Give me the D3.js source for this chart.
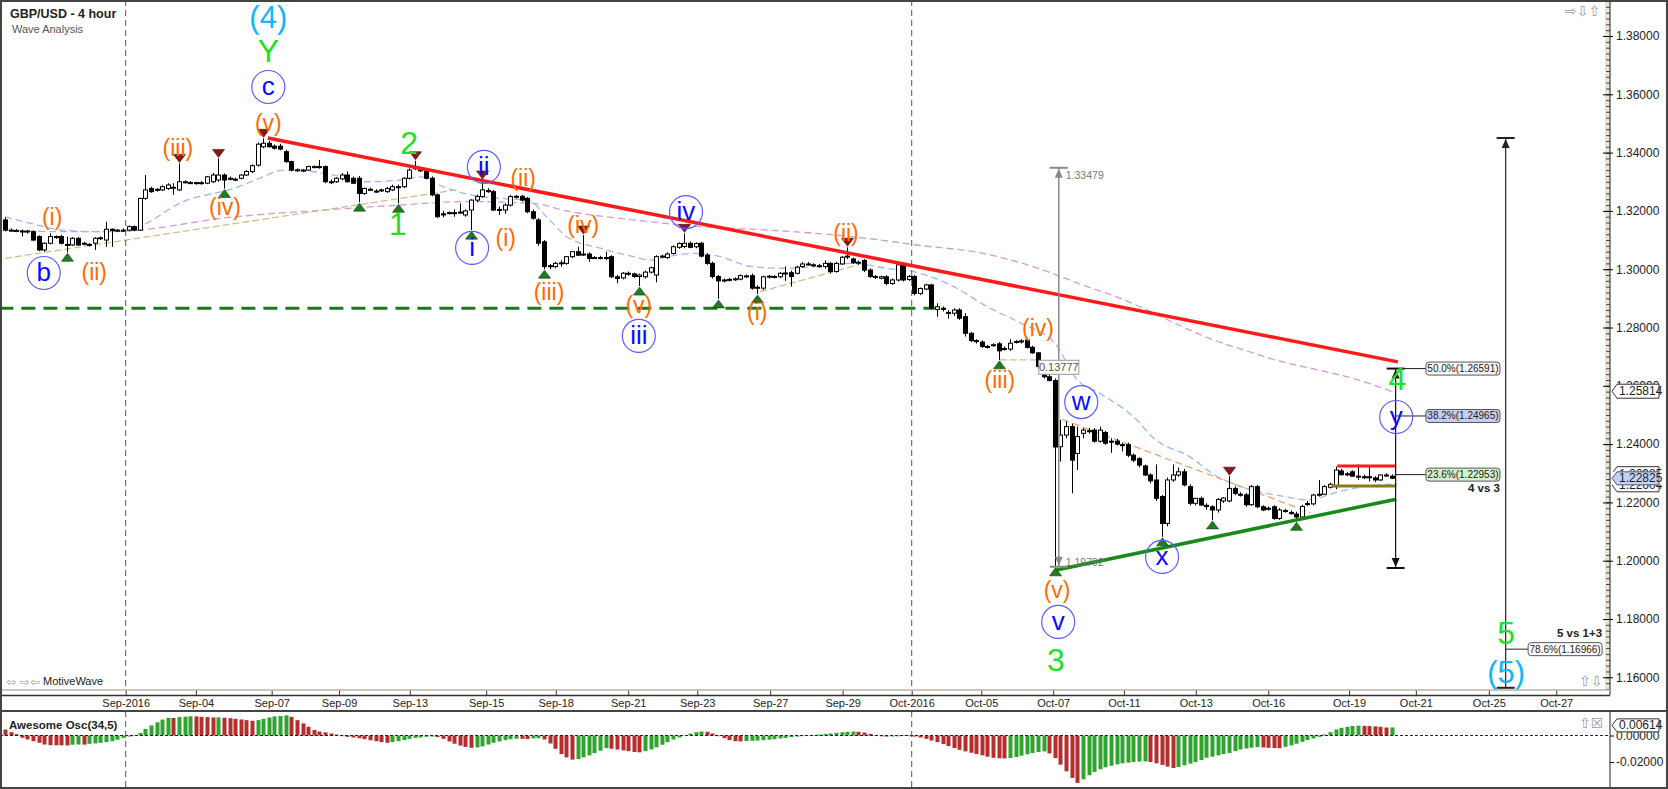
<!DOCTYPE html>
<html lang="en">
<head>
<meta charset="UTF-8">
<title>GBP/USD - 4 hour</title>
<script src="https://d3js.org/d3.v7.min.js"></script>
<style>
  body { margin: 0; background: #fff; }
  svg { display: block; font-family: "Liberation Sans", Arial, sans-serif; }
  .icon { font-family: "DejaVu Sans", sans-serif; fill: #9a9a9a; }
</style>
</head>
<body>
<svg id="chart" width="1668" height="789"></svg>
<script>
// 4 hour bars, [open, high, low, close]; index 0 = first bar on screen
const candles = [
  [1.3169,1.3178,1.3130,1.3134],[1.3134,1.3140,1.3128,1.3133],[1.3133,1.3138,1.3127,1.3131],[1.3131,1.3136,1.3112,1.3128],[1.3128,1.3134,1.3122,1.3131],[1.3129,1.3133,1.3096,1.3100],
  [1.3112,1.3116,1.3062,1.3066],[1.3066,1.3092,1.3060,1.3089],[1.3089,1.3123,1.3085,1.3112],[1.3112,1.3116,1.3104,1.3109],[1.3112,1.3118,1.3085,1.3089],[1.3085,1.3112,1.3058,1.3083],
  [1.3083,1.3110,1.3080,1.3106],[1.3106,1.3110,1.3080,1.3083],[1.3089,1.3094,1.3082,1.3087],[1.3085,1.3090,1.3078,1.3083],[1.3089,1.3110,1.3066,1.3106],[1.3106,1.3112,1.3100,1.3108],
  [1.3100,1.3163,1.3077,1.3137],[1.3137,1.3140,1.3077,1.3132],[1.3134,1.3138,1.3128,1.3134],[1.3134,1.3140,1.3128,1.3133],[1.3134,1.3150,1.3130,1.3146],[1.3146,1.3150,1.3130,1.3134],
  [1.3134,1.3245,1.3132,1.3243],[1.3243,1.3323,1.3238,1.3272],[1.3277,1.3283,1.3262,1.3266],[1.3272,1.3278,1.3266,1.3274],[1.3272,1.3288,1.3268,1.3283],[1.3277,1.3295,1.3272,1.3289],
  [1.3281,1.3295,1.3255,1.3281],[1.3272,1.3363,1.3268,1.3300],[1.3300,1.3305,1.3294,1.3300],[1.3297,1.3302,1.3292,1.3296],[1.3297,1.3300,1.3290,1.3296],[1.3297,1.3302,1.3290,1.3297],
  [1.3295,1.3320,1.3292,1.3317],[1.3300,1.3330,1.3295,1.3323],[1.3306,1.3380,1.3300,1.3323],[1.3323,1.3328,1.3277,1.3306],[1.3312,1.3318,1.3305,1.3310],[1.3309,1.3314,1.3302,1.3308],
  [1.3312,1.3326,1.3308,1.3323],[1.3323,1.3340,1.3320,1.3335],[1.3335,1.3360,1.3330,1.3355],[1.3357,1.3435,1.3352,1.3429],[1.3420,1.3449,1.3415,1.3432],[1.3432,1.3440,1.3418,1.3420],
  [1.3422,1.3428,1.3410,1.3415],[1.3422,1.3430,1.3408,1.3412],[1.3403,1.3410,1.3365,1.3369],[1.3369,1.3372,1.3335,1.3340],[1.3340,1.3346,1.3334,1.3341],[1.3340,1.3344,1.3333,1.3339],
  [1.3340,1.3355,1.3337,1.3352],[1.3352,1.3356,1.3346,1.3351],[1.3352,1.3375,1.3345,1.3350],[1.3352,1.3356,1.3295,1.3300],[1.3300,1.3308,1.3292,1.3299],[1.3300,1.3315,1.3296,1.3312],
  [1.3310,1.3330,1.3305,1.3323],[1.3323,1.3335,1.3298,1.3300],[1.3312,1.3318,1.3292,1.3295],[1.3312,1.3320,1.3230,1.3260],[1.3260,1.3280,1.3255,1.3277],[1.3274,1.3280,1.3268,1.3272],
  [1.3268,1.3274,1.3262,1.3267],[1.3272,1.3276,1.3265,1.3270],[1.3266,1.3282,1.3262,1.3277],[1.3272,1.3290,1.3268,1.3283],[1.3283,1.3290,1.3226,1.3280],[1.3283,1.3315,1.3278,1.3312],
  [1.3312,1.3346,1.3308,1.3340],[1.3346,1.3372,1.3340,1.3348],[1.3340,1.3346,1.3334,1.3341],[1.3340,1.3345,1.3308,1.3312],[1.3312,1.3318,1.3250,1.3255],[1.3255,1.3260,1.3175,1.3180],
  [1.3190,1.3200,1.3178,1.3186],[1.3194,1.3198,1.3188,1.3192],[1.3192,1.3205,1.3180,1.3194],[1.3194,1.3226,1.3190,1.3196],[1.3186,1.3205,1.3180,1.3200],[1.3203,1.3240,1.3134,1.3237],
  [1.3237,1.3256,1.3230,1.3249],[1.3249,1.3306,1.3245,1.3272],[1.3270,1.3278,1.3262,1.3266],[1.3266,1.3272,1.3200,1.3203],[1.3205,1.3215,1.3186,1.3203],[1.3203,1.3226,1.3190,1.3220],
  [1.3220,1.3255,1.3215,1.3249],[1.3249,1.3255,1.3243,1.3250],[1.3250,1.3255,1.3232,1.3237],[1.3243,1.3248,1.3192,1.3197],[1.3197,1.3205,1.3170,1.3175],[1.3169,1.3175,1.3080,1.3089],
  [1.3094,1.3100,1.3000,1.3009],[1.3009,1.3018,1.3000,1.3012],[1.3009,1.3025,1.3003,1.3020],[1.3020,1.3031,1.3009,1.3022],[1.3020,1.3045,1.3015,1.3043],[1.3043,1.3060,1.3038,1.3060],
  [1.3060,1.3077,1.3045,1.3048],[1.3052,1.3117,1.3045,1.3050],[1.3052,1.3058,1.3025,1.3037],[1.3040,1.3045,1.3035,1.3040],[1.3040,1.3046,1.3034,1.3039],[1.3040,1.3060,1.3032,1.3038],
  [1.3043,1.3048,1.2970,1.2974],[1.2974,1.2980,1.2952,1.2968],[1.2970,1.2990,1.2965,1.2986],[1.2986,1.2992,1.2978,1.2984],[1.2984,1.2988,1.2970,1.2975],[1.2975,1.2985,1.2942,1.2980],
  [1.2974,1.2995,1.2968,1.2990],[1.2990,1.3009,1.2985,1.3005],[1.2980,1.3048,1.2955,1.3043],[1.3043,1.3050,1.3038,1.3045],[1.3040,1.3058,1.3035,1.3052],[1.3054,1.3082,1.3050,1.3077],
  [1.3075,1.3092,1.3070,1.3088],[1.3078,1.3123,1.3072,1.3089],[1.3089,1.3095,1.3072,1.3075],[1.3077,1.3092,1.3072,1.3088],[1.3089,1.3094,1.3040,1.3045],[1.3048,1.3055,1.3015,1.3020],
  [1.3020,1.3026,1.2968,1.2975],[1.2975,1.2980,1.2898,1.2960],[1.2962,1.2968,1.2955,1.2963],[1.2963,1.2970,1.2958,1.2965],[1.2966,1.2972,1.2960,1.2967],[1.2966,1.2982,1.2962,1.2978],
  [1.2976,1.2982,1.2970,1.2977],[1.2978,1.2985,1.2930,1.2935],[1.2935,1.2945,1.2915,1.2938],[1.2935,1.2978,1.2928,1.2974],[1.2974,1.2980,1.2968,1.2976],[1.2975,1.2980,1.2968,1.2973],
  [1.2974,1.2990,1.2970,1.2986],[1.2985,1.3009,1.2960,1.2987],[1.2988,1.2995,1.2940,1.2975],[1.2986,1.3012,1.2982,1.3007],[1.3009,1.3025,1.3005,1.3018],[1.3018,1.3025,1.3012,1.3017],
  [1.3015,1.3020,1.3008,1.3014],[1.3012,1.3018,1.3005,1.3010],[1.3009,1.3030,1.3002,1.3020],[1.3020,1.3025,1.2985,1.2992],[1.2992,1.3025,1.2988,1.3020],[1.3018,1.3045,1.3015,1.3041],
  [1.3043,1.3075,1.3035,1.3045],[1.3035,1.3040,1.3018,1.3022],[1.3022,1.3030,1.3015,1.3024],[1.3030,1.3035,1.2990,1.2997],[1.2997,1.3003,1.2970,1.2975],[1.2975,1.2980,1.2966,1.2974],
  [1.2969,1.2978,1.2965,1.2974],[1.2974,1.2980,1.2945,1.2951],[1.2951,1.2968,1.2946,1.2963],[1.2963,1.3018,1.2958,1.3015],[1.3015,1.3020,1.2958,1.2963],[1.2965,1.2980,1.2960,1.2975],
  [1.2975,1.2980,1.2910,1.2917],[1.2917,1.2937,1.2912,1.2934],[1.2932,1.2950,1.2928,1.2946],[1.2946,1.2950,1.2862,1.2866],[1.2862,1.2883,1.2837,1.2871],[1.2866,1.2872,1.2855,1.2862],
  [1.2852,1.2860,1.2830,1.2850],[1.2849,1.2866,1.2840,1.2860],[1.2860,1.2866,1.2826,1.2832],[1.2837,1.2849,1.2769,1.2780],[1.2780,1.2785,1.2750,1.2755],[1.2755,1.2760,1.2745,1.2752],
  [1.2750,1.2756,1.2730,1.2735],[1.2735,1.2740,1.2728,1.2734],[1.2740,1.2746,1.2734,1.2741],[1.2744,1.2750,1.2689,1.2720],[1.2727,1.2735,1.2720,1.2728],[1.2726,1.2760,1.2720,1.2746],
  [1.2750,1.2757,1.2745,1.2752],[1.2752,1.2760,1.2745,1.2754],[1.2757,1.2765,1.2728,1.2732],[1.2732,1.2737,1.2710,1.2713],[1.2713,1.2716,1.2660,1.2666],[1.2660,1.2665,1.2625,1.2631],
  [1.2631,1.2640,1.2615,1.2618],[1.2618,1.2625,1.1979,1.2390],[1.2391,1.2483,1.2340,1.2431],[1.2431,1.2478,1.2420,1.2460],[1.2460,1.2470,1.2231,1.2345],[1.2368,1.2460,1.2311,1.2426],
  [1.2437,1.2455,1.2420,1.2448],[1.2446,1.2455,1.2436,1.2444],[1.2448,1.2455,1.2405,1.2410],[1.2410,1.2460,1.2405,1.2448],[1.2440,1.2445,1.2398,1.2403],[1.2410,1.2420,1.2370,1.2408],
  [1.2410,1.2418,1.2395,1.2400],[1.2398,1.2405,1.2375,1.2396],[1.2398,1.2405,1.2355,1.2362],[1.2362,1.2368,1.2338,1.2345],[1.2350,1.2355,1.2320,1.2328],[1.2325,1.2330,1.2290,1.2294],
  [1.2294,1.2300,1.2265,1.2274],[1.2277,1.2330,1.2205,1.2214],[1.2220,1.2225,1.2082,1.2128],[1.2128,1.2285,1.2118,1.2277],[1.2277,1.2330,1.2270,1.2294],[1.2294,1.2320,1.2288,1.2305],
  [1.2305,1.2315,1.2255,1.2260],[1.2254,1.2262,1.2190,1.2197],[1.2197,1.2215,1.2190,1.2214],[1.2214,1.2220,1.2188,1.2191],[1.2190,1.2197,1.2175,1.2186],[1.2185,1.2190,1.2140,1.2174],
  [1.2174,1.2215,1.2165,1.2210],[1.2205,1.2218,1.2198,1.2215],[1.2205,1.2290,1.2200,1.2248],[1.2248,1.2255,1.2225,1.2231],[1.2228,1.2235,1.2220,1.2226],[1.2226,1.2232,1.2185,1.2192],
  [1.2192,1.2260,1.2188,1.2254],[1.2254,1.2260,1.2180,1.2185],[1.2185,1.2190,1.2170,1.2174],[1.2180,1.2186,1.2172,1.2178],[1.2185,1.2190,1.2140,1.2145],[1.2145,1.2180,1.2140,1.2174],
  [1.2172,1.2178,1.2165,1.2171],[1.2165,1.2172,1.2158,1.2163],[1.2160,1.2168,1.2135,1.2150],[1.2150,1.2192,1.2145,1.2186],[1.2196,1.2205,1.2188,1.2195],[1.2195,1.2230,1.2190,1.2225],
  [1.2226,1.2277,1.2220,1.2228],[1.2228,1.2260,1.2225,1.2254],[1.2252,1.2268,1.2248,1.2262],[1.2254,1.2323,1.2245,1.2311],[1.2308,1.2315,1.2292,1.2295],[1.2298,1.2305,1.2290,1.2297],
  [1.2305,1.2310,1.2288,1.2290],[1.2290,1.2330,1.2277,1.2288],[1.2288,1.2295,1.2280,1.2287],[1.2288,1.2323,1.2272,1.2287],[1.2284,1.2290,1.2270,1.2277],[1.2277,1.2296,1.2274,1.2294],
  [1.2292,1.2300,1.2288,1.2294],[1.2290,1.2296,1.2280,1.2283]
];

// Awesome Oscillator (34,5), one value per bar
const aoValues = [
  0.0045,0.0025,0.0010,-0.0017,-0.0030,-0.0043,-0.0055,-0.0068,-0.0073,-0.0074,-0.0074,-0.0075,
  -0.0070,-0.0068,-0.0069,-0.0063,-0.0060,-0.0055,-0.0050,-0.0043,-0.0032,-0.0018,-0.0008,0.0003,
  0.0020,0.0050,0.0076,0.0100,0.0120,0.0133,0.0132,0.0139,0.0142,0.0145,0.0144,0.0141,
  0.0139,0.0136,0.0137,0.0134,0.0131,0.0126,0.0121,0.0116,0.0111,0.0116,0.0126,0.0136,
  0.0144,0.0147,0.0152,0.0141,0.0116,0.0091,0.0066,0.0042,0.0030,0.0024,0.0015,0.0007,
  -0.0005,-0.0010,-0.0015,-0.0020,-0.0028,-0.0036,-0.0043,-0.0050,-0.0055,-0.0050,-0.0043,-0.0035,
  -0.0025,-0.0018,-0.0015,-0.0010,-0.0008,-0.0012,-0.0025,-0.0045,-0.0062,-0.0076,-0.0086,-0.0093,
  -0.0090,-0.0082,-0.0068,-0.0055,-0.0045,-0.0035,-0.0028,-0.0024,-0.0025,-0.0027,-0.0022,-0.0020,
  -0.0030,-0.0060,-0.0100,-0.0140,-0.0165,-0.0182,-0.0178,-0.0165,-0.0150,-0.0133,-0.0115,-0.0095,
  -0.0100,-0.0106,-0.0112,-0.0118,-0.0124,-0.0127,-0.0118,-0.0105,-0.0090,-0.0070,-0.0050,-0.0030,
  -0.0015,0.0002,0.0015,0.0025,0.0030,0.0028,0.0015,-0.0005,-0.0020,-0.0035,-0.0043,-0.0045,
  -0.0042,-0.0040,-0.0038,-0.0035,-0.0032,-0.0028,-0.0022,-0.0018,-0.0012,-0.0008,-0.0005,-0.0002,
  0.0003,0.0008,0.0012,0.0015,0.0020,0.0025,0.0028,0.0030,0.0028,0.0022,0.0012,-0.0003,
  -0.0006,-0.0008,-0.0007,-0.0006,-0.0004,-0.0005,-0.0008,-0.0015,-0.0025,-0.0038,-0.0050,-0.0065,
  -0.0080,-0.0095,-0.0108,-0.0120,-0.0130,-0.0140,-0.0150,-0.0160,-0.0168,-0.0172,-0.0173,-0.0170,
  -0.0162,-0.0152,-0.0142,-0.0133,-0.0125,-0.0120,-0.0135,-0.0170,-0.0220,-0.0270,-0.0320,-0.0358,
  -0.0330,-0.0300,-0.0275,-0.0255,-0.0240,-0.0228,-0.0218,-0.0210,-0.0205,-0.0200,-0.0197,-0.0196,
  -0.0200,-0.0210,-0.0222,-0.0235,-0.0245,-0.0238,-0.0225,-0.0212,-0.0200,-0.0185,-0.0168,-0.0160,
  -0.0150,-0.0140,-0.0132,-0.0118,-0.0105,-0.0098,-0.0092,-0.0088,-0.0090,-0.0093,-0.0095,-0.0096,
  -0.0085,-0.0075,-0.0062,-0.0048,-0.0035,-0.0022,-0.0010,0.0008,0.0025,0.0045,0.0058,0.0066,
  0.0072,0.0074,0.0073,0.0071,0.0069,0.0066,0.0060,0.0061
];

// time axis (bar index of each date tick)
const timeTickBars = [21.5,34,47.5,59.5,72.1,85.7,98.1,111,123.3,136.3,149.2,161.5,173.9,186.7,199.3,212.1,225,239.4,251.3,264.3,276.3];
const timeTickLabels = ["Sep-2016","Sep-04","Sep-07","Sep-09","Sep-13","Sep-15","Sep-18","Sep-21","Sep-23","Sep-27","Sep-29","Oct-2016","Oct-05","Oct-07","Oct-11","Oct-13","Oct-16","Oct-19","Oct-21","Oct-25","Oct-27"];
const monthBars = [21.5, 161.5];

const priceTicks = [1.16,1.18,1.20,1.22,1.24,1.26,1.28,1.30,1.32,1.34,1.36,1.38];
const aoTicks = [0, -0.02];

// moving averages, [bar, price]
const maFast = [[0,1.3180],[4.6,1.3157],[10.2,1.3134],[16,1.3129],[21.7,1.3134],[32.4,1.3237],[40.7,1.3277],[45.4,1.3312],[49.6,1.3340],[51.4,1.3340],[58.5,1.3323],[64.4,1.3300],[70.4,1.3306],[74,1.3317],[78,1.3283],[83,1.3255],[88,1.3243],[93,1.3237],[97,1.3169],[100,1.3112],[106,1.3072],[112,1.3043],[115,1.3031],[118,1.3043],[123,1.3054],[127,1.3045],[133,1.3009],[139,1.3003],[145,1.3010],[151,1.3020],[157,1.3003],[163,1.2986],[169,1.2940],[175,1.2871],[181,1.2814],[187,1.2746],[191,1.2620],[195,1.2574],[201,1.2494],[205,1.2414],[207,1.2391],[210,1.2368],[216,1.2288],[222,1.2243],[228,1.2220],[232,1.2208],[237.6,1.2237],[243.6,1.2258],[248,1.2263]];
const maSlow = [[0,1.3134],[8,1.3129],[19,1.3129],[41,1.3180],[59,1.3206],[70.4,1.3220],[82,1.3232],[94,1.3226],[100,1.3200],[112,1.3169],[124,1.3146],[136,1.3134],[148,1.3117],[156,1.3100],[162.4,1.3083],[174.3,1.3054],[186,1.2990],[192,1.2945],[198,1.2905],[204,1.2855],[210,1.2800],[216,1.2752],[222,1.2715],[226,1.2690],[234,1.2654],[240,1.2626],[247,1.2581]];
const tanLine1 = [[0,1.3037],[81,1.3274]];
const tanLine2 = [[134.5,1.2923],[152,1.3015]];
const tanLine3 = [[177.2,1.2689],[183.8,1.2689]];
const orangeLine = [[188.3,1.2485],[232.5,1.2165]];

// drawn lines
const redTrend = [[46.8,1.3450],[248.1,1.2682]];
const greenSupport = [[187.3,1.1968],[247.8,1.2211]];
const redCap = [[237.3,1.2325],[247.8,1.2325]];
const oliveBase = [[236.3,1.2256],[247.8,1.2256]];
const greenLevel = [[-1,1.2866],[167,1.2866]];

// swing markers [bar, price]
const lowMarks = [[11,1.3058],[39,1.3277],[63,1.3230],[70,1.3226],[83,1.3134],[96,1.3000],[113,1.2942],[127,1.2898],[134,1.2915],[177,1.2689],[187,1.1979],[206,1.2082],[215,1.2140],[230,1.2135]];
const highMarks = [[31,1.3363],[38,1.3380],[46,1.3449],[73,1.3372],[85,1.3306],[103,1.3117],[121,1.3123],[150,1.3075],[218,1.2290]];

// wave labels [text, bar, price, group]
const waveLabels = [
  ["(4)",46.9,1.3865,"cyan"],["Y",46.9,1.3749,"green"],["c",46.9,1.3625,"circle"],["(v)",46.9,1.3502,"orange"],
  ["(iii)",30.8,1.3416,"orange"],["(iv)",39.2,1.3213,"orange"],["(i)",8.4,1.3179,"orange"],["b",6.9,1.2987,"circle"],["(ii)",15.9,1.2990,"orange"],
  ["2",72,1.3433,"green"],["1",70,1.3155,"green"],["ii",85.3,1.3351,"circle"],["(ii)",92.3,1.3313,"orange"],["i",83.2,1.3073,"circle"],
  ["(i)",89.2,1.3107,"orange"],["(iii)",96.9,1.2922,"orange"],["(iv)",103,1.3152,"orange"],["iv",121.3,1.3196,"circle"],["(v)",112.9,1.2877,"orange"],
  ["iii",112.9,1.2771,"circle"],["(i)",134,1.2853,"orange"],["(ii)",149.8,1.3124,"orange"],["(iv)",184,1.2798,"orange"],["(iii)",177.2,1.2620,"orange"],
  ["w",191.7,1.2544,"circle"],["(v)",187.4,1.1900,"orange"],["v",187.6,1.1790,"circle"],["3",187.2,1.1659,"green"],["x",206.1,1.2013,"circle"],
  ["4",248,1.2623,"green"],["y",247.8,1.2493,"circle"],["5",267.4,1.1752,"green"],["(5)",267.4,1.1615,"cyan"]
];

// measuring tools [bar, top price, bottom price]
const fibTool = [247.7, 1.26591, 1.1975];
const fibLevels = [["50.0%",1.26591],["38.2%",1.24965],["23.6%",1.22953]];
const extTool = [267.3, 1.3450, 1.1564];
const extLevel = ["78.6%", 1.16966];
const grayTool = [187.7, 1.33479, 1.19792];
const grayRange = "0.13777";

// value tags on the price axis
const tagBack = [[1.22985,"1.22985"],[1.22604,"1.22604"]];
const tagMa = [1.25814,"1.25814"];
const tagLast = [1.22825,"1.22825"];
const aoLast = 0.00614;

// ---------------------------------------------------------------------------
const W = 1668, H = 789;
const axisX = 1610, plotBottom = 690, oscTop = 711, oscBottom = 788;

const svg = d3.select("#chart");
svg.append("rect").attr("width", W).attr("height", H).attr("fill", "#fff");

const x = d3.scaleLinear().domain([0, 247]).range([5, 1391.7]);
const y = d3.scaleLinear().domain([1.16, 1.38]).range([677.3, 36]);
const yAo = d3.scaleLinear().domain([-0.02, 0]).range([762, 735.5]);

const defs = svg.append("defs");
defs.append("clipPath").attr("id", "clipMain").append("rect")
  .attr("x", 0).attr("y", 0).attr("width", axisX).attr("height", plotBottom);
defs.append("clipPath").attr("id", "clipOsc").append("rect")
  .attr("x", 0).attr("y", oscTop).attr("width", axisX).attr("height", oscBottom - oscTop);

// clip made of horizontal bands (used where a value tag covers axis text)
function bandClip(id, bands, x0) {
  const cp = defs.append("clipPath").attr("id", id);
  bands.forEach(([a, b]) => cp.append("rect").attr("x", x0).attr("y", a).attr("width", 200).attr("height", b - a));
}

const main = svg.append("g").attr("clip-path", "url(#clipMain)");
const osc = svg.append("g").attr("clip-path", "url(#clipOsc)");

// month separators
monthBars.forEach(b => {
  [[0, plotBottom], [oscTop, oscBottom]].forEach(([a, z]) => {
    svg.append("line").attr("x1", x(b)).attr("x2", x(b)).attr("y1", a).attr("y2", z)
      .attr("stroke", "#555").attr("stroke-dasharray", "6,4");
  });
});

const curve = d3.line().x(d => x(d[0])).y(d => y(d[1])).curve(d3.curveMonotoneX);
const straight = d3.line().x(d => x(d[0])).y(d => y(d[1]));

main.append("path").attr("d", curve(maSlow)).attr("fill", "none")
  .attr("stroke", "#d49ad6").attr("stroke-width", 1.3).attr("stroke-dasharray", "7,4");
main.append("path").attr("d", curve(maFast)).attr("fill", "none")
  .attr("stroke", "#9db7f4").attr("stroke-width", 1.3).attr("stroke-dasharray", "7,4");
[tanLine1, tanLine2, tanLine3].forEach(l => {
  main.append("path").attr("d", straight(l)).attr("fill", "none")
    .attr("stroke", "#c9c08c").attr("stroke-width", 1.3).attr("stroke-dasharray", "7,3");
});
main.append("path").attr("d", straight(orangeLine)).attr("fill", "none")
  .attr("stroke", "#f6a06a").attr("stroke-width", 1.3).attr("stroke-dasharray", "7,4");

main.append("path").attr("d", straight(greenLevel)).attr("fill", "none")
  .attr("stroke", "#1c7a1c").attr("stroke-width", 3).attr("stroke-dasharray", "14,8");

// candles
const cx = i => Math.round(x(i)) + 0.5;
main.append("g").selectAll("line").data(candles).join("line")
  .attr("x1", (d, i) => cx(i)).attr("x2", (d, i) => cx(i))
  .attr("y1", d => y(d[1])).attr("y2", d => y(d[2]))
  .attr("stroke", "#000").attr("stroke-width", 1);
main.append("g").selectAll("rect").data(candles).join("rect")
  .attr("x", (d, i) => cx(i) - 2).attr("width", 4)
  .attr("y", d => y(Math.max(d[0], d[3])))
  .attr("height", d => Math.max(1, Math.abs(y(d[0]) - y(d[3]))))
  .attr("fill", d => d[3] >= d[0] ? "#fff" : "#000")
  .attr("stroke", "#000").attr("stroke-width", 1);

// drawn lines
main.append("path").attr("d", straight(redTrend)).attr("stroke", "#ff1a1a").attr("stroke-width", 3.5);
main.append("path").attr("d", straight(greenSupport)).attr("stroke", "#198a19").attr("stroke-width", 3.5);
main.append("path").attr("d", straight(redCap)).attr("stroke", "#ff1a1a").attr("stroke-width", 3);
main.append("path").attr("d", straight(oliveBase)).attr("stroke", "#8a7c12").attr("stroke-width", 3);

// measuring tools
function tool(g, t, color, width, arrowTop, arrowBottom) {
  const xx = x(t[0]), yt = y(t[1]), yb = y(t[2]);
  g.append("line").attr("x1", xx).attr("x2", xx).attr("y1", yt).attr("y2", yb)
    .attr("stroke", color).attr("stroke-width", width);
  [yt, yb].forEach(v => g.append("line").attr("x1", xx - 9).attr("x2", xx + 9).attr("y1", v).attr("y2", v)
    .attr("stroke", color).attr("stroke-width", 2));
  if (arrowTop) g.append("path").attr("d", `M${xx},${yt + 1}L${xx - 4},${yt + 10}L${xx + 4},${yt + 10}Z`).attr("fill", color);
  if (arrowBottom) g.append("path").attr("d", `M${xx},${yb - 1}L${xx - 4},${yb - 10}L${xx + 4},${yb - 10}Z`).attr("fill", color);
}
tool(main, grayTool, "#8a8a8a", 1.5, true, true);
tool(main, fibTool, "#111", 1.2, true, true);
tool(main, extTool, "#222", 1.2, true, false);

const gx = x(grayTool[0]);
main.append("text").attr("x", gx + 7).attr("y", y(grayTool[1]) + 7).attr("dominant-baseline", "central")
  .attr("font-size", 10.5).attr("fill", "#777").text(grayTool[1].toFixed(5));
main.append("text").attr("x", gx + 7).attr("y", y(grayTool[2]) - 5).attr("dominant-baseline", "central")
  .attr("font-size", 10.5).attr("fill", "#777").text(grayTool[2].toFixed(5));
const gm = (y(grayTool[1]) + y(grayTool[2])) / 2;
main.append("rect").attr("x", gx - 20).attr("y", gm - 7).attr("width", 40).attr("height", 14)
  .attr("fill", "#fff").attr("stroke", "#999");
main.append("text").attr("x", gx).attr("y", gm).attr("text-anchor", "middle").attr("dominant-baseline", "central")
  .attr("font-size", 11).attr("fill", "#555").text(grayRange);

// fib labels
const fibFills = ["#f7f7f7", "#c7cef2", "#d1f0cb"];
const fx = x(fibTool[0]), fLab = x(253.1);
fibLevels.forEach(([pct, v], k) => {
  const yy = y(v);
  main.append("line").attr("x1", fx).attr("x2", fLab).attr("y1", yy).attr("y2", yy).attr("stroke", "#222");
  main.append("rect").attr("x", fLab).attr("y", yy - 6.5).attr("width", 74).attr("height", 13).attr("rx", 3)
    .attr("fill", fibFills[k]).attr("stroke", "#555");
  main.append("text").attr("x", fLab + 37).attr("y", yy).attr("text-anchor", "middle").attr("dominant-baseline", "central")
    .attr("font-size", 10).attr("fill", "#222").text(`${pct}(${v.toFixed(5)})`);
});
main.append("text").attr("x", fLab + 74).attr("y", y(fibLevels[2][1]) + 17).attr("text-anchor", "end")
  .attr("font-size", 11.5).attr("font-weight", "bold").attr("fill", "#222").text("4 vs 3");

const ex = x(extTool[0]), eLab = x(271.3), ey = y(extLevel[1]);
main.append("line").attr("x1", ex).attr("x2", eLab).attr("y1", ey).attr("y2", ey).attr("stroke", "#222");
main.append("rect").attr("x", eLab).attr("y", ey - 6.5).attr("width", 74).attr("height", 13).attr("rx", 3)
  .attr("fill", "#fff").attr("stroke", "#555");
main.append("text").attr("x", eLab + 37).attr("y", ey).attr("text-anchor", "middle").attr("dominant-baseline", "central")
  .attr("font-size", 10).attr("fill", "#222").text(`${extLevel[0]}(${extLevel[1].toFixed(5)})`);
main.append("text").attr("x", eLab + 74).attr("y", ey - 12).attr("text-anchor", "end")
  .attr("font-size", 11.5).attr("font-weight", "bold").attr("fill", "#222").text("5 vs 1+3");

// swing markers
main.append("g").selectAll("path").data(lowMarks).join("path")
  .attr("d", d => { const px = cx(d[0]), py = y(d[1]) + 1; return `M${px},${py}L${px - 6},${py + 8}L${px + 6},${py + 8}Z`; })
  .attr("fill", "#1f7c1f").attr("stroke", "#0d3f0d").attr("stroke-width", 0.6);
main.append("g").selectAll("path").data(highMarks).join("path")
  .attr("d", d => { const px = cx(d[0]), py = y(d[1]) - 1; return `M${px},${py}L${px - 6},${py - 8}L${px + 6},${py - 8}Z`; })
  .attr("fill", "#8c1616").attr("stroke", "#3f0808").attr("stroke-width", 0.6);

// wave labels
const labelStyle = {
  orange: { fill: "#ff6a00", size: 23 },
  green: { fill: "#22e022", size: 32 },
  cyan: { fill: "#14b6f7", size: 31 },
  circle: { fill: "#0b0bff", size: 26 }
};
waveLabels.forEach(([t, b, p, grp]) => {
  const st = labelStyle[grp];
  if (grp === "circle") {
    main.append("circle").attr("cx", x(b)).attr("cy", y(p)).attr("r", 16.5)
      .attr("fill", "none").attr("stroke", "#5c5cff").attr("stroke-width", 1.2);
  }
  main.append("text").attr("x", x(b)).attr("y", y(p) + (grp === "circle" ? -1 : 0))
    .attr("text-anchor", "middle").attr("dominant-baseline", "central")
    .attr("font-size", st.size).attr("fill", st.fill).text(t);
});

// ---- price axis ----
const tagHalf = 7;
svg.append("rect").attr("x", axisX - 5).attr("y", 0).attr("width", 5).attr("height", plotBottom).attr("fill", "#e7e4d6");
const minorTicks = d3.range(578, 697).map(k => k / 500);
const ruler = svg.append("g").attr("transform", `translate(${axisX},0)`)
  .call(d3.axisLeft(y).tickValues(minorTicks).tickSize(4).tickFormat(""));
ruler.select(".domain").remove();
ruler.selectAll("line").attr("stroke", "#444");
const major = svg.append("g").attr("transform", `translate(${axisX},0)`)
  .call(d3.axisLeft(y).tickValues(priceTicks).tickSize(7).tickFormat(""));
major.select(".domain").remove();

// price labels hide behind the moving-average tag, as on the platform
const maTagY = y(tagMa[0]);
bandClip("clipPriceAxis", [[0, maTagY - tagHalf], [maTagY + tagHalf, H]], -20);
const yAxisG = svg.append("g").attr("transform", `translate(${axisX},0)`).attr("clip-path", "url(#clipPriceAxis)")
  .call(d3.axisRight(y).tickValues(priceTicks).tickFormat(d => d.toFixed(5)).tickSize(3).tickPadding(3));
yAxisG.select(".domain").remove();
yAxisG.attr("font-size", 12).attr("font-family", "Liberation Sans, Arial, sans-serif");
yAxisG.selectAll("text").attr("fill", "#222");

function axisTag(yy, text, fill, stroke, half, clipId) {
  const g = svg.append("g");
  if (clipId) g.attr("clip-path", `url(#${clipId})`);
  g.append("path").attr("d", `M${axisX + 2},${yy}L${axisX + 7},${yy - half}H1659V${yy + half}H${axisX + 7}Z`)
    .attr("fill", fill).attr("stroke", stroke);
  g.append("text").attr("x", axisX + 9).attr("y", yy).attr("dominant-baseline", "central")
    .attr("font-size", 12).attr("fill", "#222").text(text);
}
axisTag(maTagY, tagMa[1], "#fff", "#333", tagHalf);

// stacked tags behind the last-price tag only peek out above and below it
const lastY = y(tagLast[0]), lastHalf = 6.5;
bandClip("clipTagUp", [[0, lastY - lastHalf]], axisX - 5);
bandClip("clipTagDown", [[lastY + lastHalf, H]], axisX - 5);
axisTag(y(tagBack[0][0]), tagBack[0][1], "#fff", "#333", tagHalf, "clipTagUp");
axisTag(y(tagBack[1][0]), tagBack[1][1], "#fff", "#333", tagHalf, "clipTagDown");
axisTag(lastY, tagLast[1], "#c3d1f5", "#4a5673", lastHalf);

svg.append("line").attr("x1", axisX).attr("x2", axisX).attr("y1", 0).attr("y2", 695).attr("stroke", "#222");

// ---- time axis ----
const xAxisG = svg.append("g").attr("transform", `translate(0,${plotBottom})`)
  .call(d3.axisBottom(x).tickValues(timeTickBars).tickFormat((d, i) => timeTickLabels[i])
    .tickSizeInner(5).tickSizeOuter(0).tickPadding(4));
xAxisG.select(".domain").remove();
xAxisG.attr("font-size", 11).attr("font-family", "Liberation Sans, Arial, sans-serif");
xAxisG.selectAll("text").attr("fill", "#222");
xAxisG.selectAll("line").attr("stroke", "#333");
svg.append("line").attr("x1", 0).attr("x2", axisX).attr("y1", plotBottom).attr("y2", plotBottom).attr("stroke", "#b9b6a6").attr("stroke-width", 1.5);
svg.append("line").attr("x1", 0).attr("x2", axisX).attr("y1", 695.5).attr("y2", 695.5).attr("stroke", "#333").attr("stroke-width", 1.5);
svg.append("line").attr("x1", 0).attr("x2", W).attr("y1", oscTop).attr("y2", oscTop).attr("stroke", "#444").attr("stroke-width", 2);

// ---- oscillator ----
osc.append("g").selectAll("rect").data(aoValues).join("rect")
  .attr("x", (d, i) => cx(i) - 2).attr("width", 4)
  .attr("y", d => Math.min(yAo(d), yAo(0)))
  .attr("height", d => Math.abs(yAo(d) - yAo(0)))
  .attr("fill", (d, i) => (i > 0 && d > aoValues[i - 1]) ? "#2fa52f" : "#b42e2e");
osc.append("line").attr("x1", 0).attr("x2", axisX).attr("y1", yAo(0)).attr("y2", yAo(0))
  .attr("stroke", "#222").attr("stroke-dasharray", "3,2");

const aoTagY = yAo(aoLast) - 2, aoHalf = 6.5;
bandClip("clipAoAxis", [[oscTop, aoTagY - aoHalf], [aoTagY + aoHalf, oscBottom]], -20);
const aoAxisG = svg.append("g").attr("transform", `translate(${axisX},0)`).attr("clip-path", "url(#clipAoAxis)")
  .call(d3.axisRight(yAo).tickValues(aoTicks).tickFormat(d => d.toFixed(5)).tickSize(4).tickPadding(2));
aoAxisG.select(".domain").remove();
aoAxisG.attr("font-size", 12).attr("font-family", "Liberation Sans, Arial, sans-serif");
aoAxisG.selectAll("text").attr("fill", "#222");
svg.append("line").attr("x1", axisX).attr("x2", axisX).attr("y1", oscTop).attr("y2", oscBottom).attr("stroke", "#222");
axisTag(aoTagY, aoLast.toFixed(5), "#fff", "#333", aoHalf);

// ---- titles and icons ----
svg.append("text").attr("x", 10).attr("y", 18).attr("font-size", 12.5).attr("font-weight", "bold").attr("fill", "#222").text("GBP/USD - 4 hour");
svg.append("text").attr("x", 12).attr("y", 33).attr("font-size", 11).attr("fill", "#555").text("Wave Analysis");
svg.append("text").attr("x", 9).attr("y", 729).attr("font-size", 11.5).attr("font-weight", "bold").attr("fill", "#222").text("Awesome Osc(34,5)");
svg.append("text").attr("class", "icon").attr("x", 6).attr("y", 686).attr("font-size", 12).text("⬄ ⇨⇦");
svg.append("text").attr("x", 43).attr("y", 685).attr("font-size", 11).attr("fill", "#222").text("MotiveWave");
svg.append("text").attr("class", "icon").attr("x", 1565).attr("y", 16).attr("font-size", 14).text("⇨⇩⇧");
svg.append("text").attr("class", "icon").attr("x", 1579).attr("y", 686).attr("font-size", 14).text("⇧⇩");
svg.append("text").attr("class", "icon").attr("x", 1579).attr("y", 728).attr("font-size", 14).text("⇧☒");

// frame
svg.append("rect").attr("x", 1).attr("y", 1).attr("width", W - 2).attr("height", H - 2)
  .attr("fill", "none").attr("stroke", "#444").attr("stroke-width", 2);
</script>
</body>
</html>
